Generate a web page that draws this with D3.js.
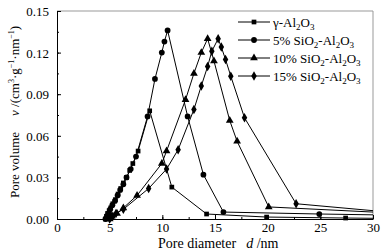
<!DOCTYPE html>
<html><head><meta charset="utf-8">
<script src="https://cdn.jsdelivr.net/npm/d3@7/dist/d3.min.js"></script>
<style>body{margin:0;background:#fff}svg{display:block}text{font-family:"Liberation Serif","Times New Roman",serif;fill:#000}</style>
</head><body><svg id="c" width="388" height="251"></svg>
<script>
const xTicks=[0,5,10,15,20,25,30];
const yTicks=[0,0.03,0.06,0.09,0.12,0.15];
const seriesNames=["γ-Al2O3","5% SiO2-Al2O3","10% SiO2-Al2O3","15% SiO2-Al2O3"];
const gammaAl2O3=[[4.6,0],[4.7,0.002],[4.8,0.004],[4.95,0.006],[5.1,0.008],[5.3,0.011],[5.55,0.014],[5.8,0.018],[6.05,0.022],[6.3,0.026],[6.6,0.030],[6.9,0.035],[7.2,0.040],[7.7,0.049],[8.8,0.078],[10.9,0.023],[14.2,0.0036],[19.9,0.0014],[27.4,0.0007],[30,0.0005]];
const si5=[[4.6,0],[4.75,0.002],[4.9,0.004],[5.05,0.007],[5.25,0.010],[5.5,0.013],[5.75,0.017],[6.0,0.021],[6.3,0.025],[6.6,0.030],[7.0,0.036],[7.5,0.045],[8.6,0.074],[9.3,0.101],[9.95,0.120],[10.2,0.128],[10.5,0.136],[12.4,0.074],[13.9,0.032],[15.8,0.005],[24.9,0.0036],[30,0.003]];
const si10=[[5.0,0],[5.2,0.002],[5.7,0.004],[6.3,0.008],[7.6,0.017],[9.95,0.040],[10.4,0.049],[12.2,0.086],[13.0,0.105],[13.7,0.120],[14.3,0.130],[14.9,0.114],[16.4,0.071],[17.1,0.056],[20.1,0.0087],[30,0.005]];
const si15=[[5.0,0],[5.3,0.002],[5.6,0.004],[6.3,0.007],[8.7,0.022],[10.4,0.036],[11.5,0.050],[13.0,0.079],[13.7,0.096],[14.3,0.110],[14.7,0.121],[15.3,0.130],[15.6,0.124],[16.0,0.115],[16.5,0.103],[17.8,0.073],[22.7,0.011],[30,0.006]];
const symbols=[d3.symbolSquare,d3.symbolCircle,d3.symbolTriangle,d3.symbolDiamond];
const symSizes=[22,26,26,26];

const svg=d3.select("#c");
const L=57,R=373,T=11,B=219;
const x=d3.scaleLinear().domain([0,30]).range([L,R]);
const y=d3.scaleLinear().domain([0,0.15]).range([B,T]);

// frame
svg.append("line").attr("x1",L).attr("x2",R).attr("y1",T).attr("y2",T).attr("stroke","#999");
svg.append("line").attr("x1",R).attr("x2",R).attr("y1",T).attr("y2",B).attr("stroke","#999");

// axes (ticks inward)
const xMinor=d3.range(0,30.01,2.5);
const yMinor=d3.range(0,0.1501,0.015);
svg.append("g").attr("transform",`translate(0,${B})`)
  .call(d3.axisBottom(x).tickValues(xMinor).tickSize(-2).tickFormat(""))
  .call(g=>g.select(".domain").remove());
svg.append("g").attr("transform",`translate(${L},0)`)
  .call(d3.axisLeft(y).tickValues(yMinor).tickSize(-2).tickFormat(""))
  .call(g=>g.select(".domain").remove());
const gx=svg.append("g").attr("transform",`translate(0,${B})`)
  .call(d3.axisBottom(x).tickValues(xTicks).tickSize(-4).tickPadding(4).tickFormat(d3.format("d")).tickSizeOuter(0));
const gy=svg.append("g").attr("transform",`translate(${L},0)`)
  .call(d3.axisLeft(y).tickValues(yTicks).tickSize(-4).tickPadding(8).tickFormat(d3.format(".2f")).tickSizeOuter(0));
[gx,gy].forEach(g=>{g.selectAll("text").attr("font-size",13).attr("font-family","Liberation Serif");g.selectAll("line,path").attr("stroke","#000");});
gy.selectAll("text").attr("dy","0.35em");

// series
const all=[gammaAl2O3,si5,si10,si15];
const line=d3.line().x(d=>x(d[0])).y(d=>y(d[1]));
const plot=svg.append("g");
plot.append("clipPath").attr("id","clip").append("rect").attr("x",L).attr("y",T-5).attr("width",R-L).attr("height",B-T+5);
all.forEach((data,i)=>{
  plot.append("path").datum(data).attr("d",line).attr("fill","none").attr("stroke","#000").attr("stroke-width",1).attr("clip-path","url(#clip)");
  plot.selectAll(null).data(data.filter(d=>d[0]<30)).enter().append("path")
    .attr("d",d3.symbol().type(symbols[i]).size(symSizes[i]))
    .attr("transform",d=>`translate(${x(d[0])},${y(d[1])})`).attr("fill","#000");
});

// legend
const lg=svg.append("g");
const rowY=[22,40,58,76];
const labels=[
  [["γ-Al",""],["2","sub"],["O",""],["3","sub"]],
  [["5% SiO",""],["2","sub"],["-Al",""],["2","sub"],["O",""],["3","sub"]],
  [["10% SiO",""],["2","sub"],["-Al",""],["2","sub"],["O",""],["3","sub"]],
  [["15% SiO",""],["2","sub"],["-Al",""],["2","sub"],["O",""],["3","sub"]]
];
rowY.forEach((ry,i)=>{
  lg.append("line").attr("x1",238).attr("x2",270).attr("y1",ry).attr("y2",ry).attr("stroke","#000");
  lg.append("path").attr("d",d3.symbol().type(symbols[i]).size(symSizes[i])).attr("transform",`translate(254,${ry})`).attr("fill","#000");
  const t=lg.append("text").attr("x",273).attr("y",ry+4.5).attr("font-size",13);
  labels[i].forEach(([s,k])=>{
    const ts=t.append("tspan").text(s);
    if(k==="sub"){ts.attr("font-size",9).attr("dy",3);}
    else ts.attr("dy",t.selectAll("tspan").size()>1?-3:0);
  });
});

// axis titles
const xt=svg.append("text").attr("x",158).attr("y",248).attr("font-size",14);
xt.append("tspan").text("Pore diameter");
xt.append("tspan").attr("font-style","italic").attr("dx",10).text("d");
xt.append("tspan").text(" /nm");

const yt=svg.append("text").attr("transform","translate(19,198) rotate(-90)").attr("font-size",13);
yt.append("tspan").text("Pore volume");
yt.append("tspan").attr("font-style","italic").attr("dx",16).text("v");
yt.append("tspan").text(" /(cm");
yt.append("tspan").attr("font-size",8).attr("dy",-5).text("3");
yt.append("tspan").attr("dy",5).text("·g");
yt.append("tspan").attr("font-size",8).attr("dy",-5).text("−1");
yt.append("tspan").attr("dy",5).text("·nm");
yt.append("tspan").attr("font-size",8).attr("dy",-5).text("−1");
yt.append("tspan").attr("dy",5).text(")");
</script></body></html>
